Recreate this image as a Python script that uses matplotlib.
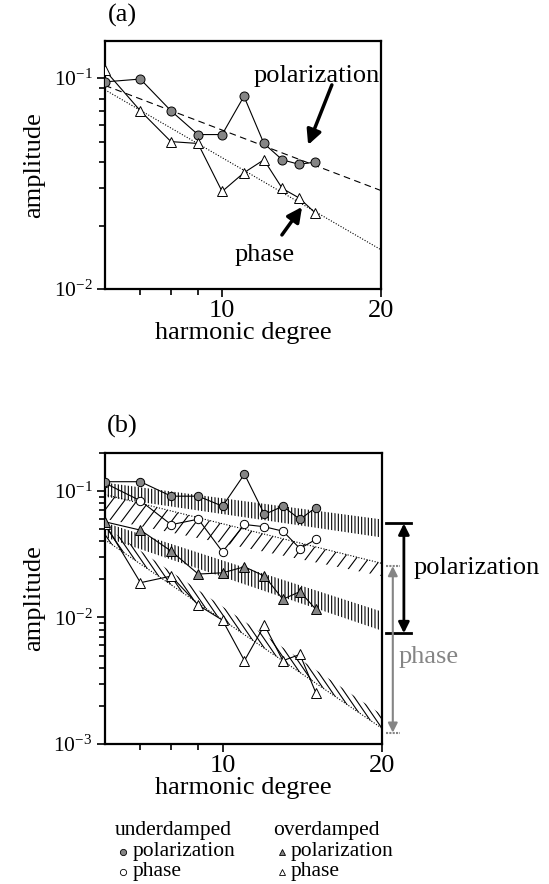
import numpy as np
import matplotlib
matplotlib.use('Agg')
import matplotlib.pyplot as plt
from matplotlib import hatch as mhatch
from matplotlib.path import Path
from matplotlib.lines import Line2D
import matplotlib.transforms as mtransforms
from matplotlib.ticker import FixedLocator, NullFormatter, FuncFormatter, LogLocator

plt.rcParams['font.family'] = ['Liberation Serif', 'DejaVu Serif']
plt.rcParams['mathtext.fontset'] = 'custom'
plt.rcParams['mathtext.rm'] = 'Liberation Serif'
plt.rcParams['mathtext.it'] = 'Liberation Serif:italic'
plt.rcParams['mathtext.default'] = 'regular'
plt.rcParams['hatch.linewidth'] = 0.8

DPI = 100


# --- measure the size (in pixels) of one hatch tile at this dpi ---
def _hatch_unit_px():
    try:
        ft = plt.figure(figsize=(3, 1), dpi=DPI)
        at = ft.add_axes([0, 0, 1, 1])
        at.set_axis_off()
        at.fill_between([0, 1], [0, 0], [1, 1], hatch='|', facecolor='white',
                        edgecolor='k', linewidth=0)
        at.set_xlim(0, 1)
        at.set_ylim(0, 1)
        ft.canvas.draw()
        row = np.asarray(ft.canvas.buffer_rgba())[50, :, 0].astype(float)
        plt.close(ft)
        dark = row < 170
        starts = np.flatnonzero(dark[1:] & ~dark[:-1])
        if len(starts) >= 3:
            spacing = np.median(np.diff(starts))
            return float(spacing * 6)
    except Exception:
        pass
    return float(DPI)


UNIT_PX = _hatch_unit_px()
NE_SPACING_PX = 12.5     # '/' hatch (band running almost across the lines)
SE_SPACING_PX = 6.25     # '\' hatch (band running nearly along the lines)
VERT_SPACING_PX = 3.3
RUN = 0.7
VERT_HATCH = '|' * max(1, int(round(UNIT_PX / (6 * VERT_SPACING_PX))))


class _SteepHatch(mhatch.HatchPatternBase):
    chars = '/'
    direction = 1
    spacing_px = NE_SPACING_PX

    def __init__(self, hatch, density):
        cnt = sum(hatch.count(c) for c in self.chars)
        n = max(2, int(round(UNIT_PX / self.spacing_px))) if cnt else 0
        self.n = n
        steps = int(round(RUN * n)) if n else 0
        self.run = steps / n if n else 0.0
        self.offsets = np.arange(-steps, n) / n if n else np.array([])
        self.num_vertices = 2 * len(self.offsets)

    def set_vertices_and_codes(self, vertices, codes):
        o = self.offsets
        if self.direction > 0:
            vertices[0::2, 0] = o
            vertices[0::2, 1] = 0.0
            vertices[1::2, 0] = o + self.run
            vertices[1::2, 1] = 1.0
        else:
            vertices[0::2, 0] = o
            vertices[0::2, 1] = 1.0
            vertices[1::2, 0] = o + self.run
            vertices[1::2, 1] = 0.0
        codes[0::2] = Path.MOVETO
        codes[1::2] = Path.LINETO


class _SteepNE(_SteepHatch):
    chars = '/'
    direction = 1
    spacing_px = NE_SPACING_PX


class _SteepSE(_SteepHatch):
    chars = '\\'
    direction = -1
    spacing_px = SE_SPACING_PX


try:
    _types = mhatch._hatch_types
    for i, t in enumerate(_types):
        if t is mhatch.NorthEastHatch:
            _types[i] = _SteepNE
        elif t is mhatch.SouthEastHatch:
            _types[i] = _SteepSE
except Exception:
    pass

# ---------------- data ----------------
degrees = [6, 7, 8, 9, 10, 11, 12, 13, 14, 15]

# panel (a)
a_pol = [0.096, 0.099, 0.070, 0.054, 0.054, 0.082, 0.049, 0.041, 0.039, 0.040]
a_phase = [0.109, 0.070, 0.050, 0.049, 0.029, 0.0356, 0.041, 0.030, 0.027, 0.023]
fit_x = [6, 20]
a_fit_pol = [0.0923, 0.0293]
a_fit_phase = [0.088, 0.01535]

# panel (b)
b_under_pol = [0.118, 0.118, 0.0907, 0.0907, 0.0756, 0.1355, 0.065, 0.0756, 0.0594, 0.0738]
b_under_phase = [0.115, 0.0834, 0.054, 0.0597, 0.033, 0.0542, 0.052, 0.048, 0.035, 0.0413]
b_over_pol = [0.0569, 0.0489, 0.0334, 0.022, 0.0225, 0.0251, 0.0212, 0.0139, 0.0160, 0.0116]
b_over_phase = [0.055, 0.0188, 0.0212, 0.0125, 0.0095, 0.00455, 0.0087, 0.00455, 0.0051, 0.00254]

band_x = [6, 20]
band1_upper = [0.116, 0.0594]
band1_lower = [0.0897, 0.0428]
band2_upper = [0.0935, 0.0267]
band2_lower = [0.060, 0.0212]
band3_upper = [0.056, 0.0111]
band3_lower = [0.043, 0.00785]
band4_upper = [0.052, 0.0017]
band4_lower = [0.041, 0.00133]

pol_range = [0.0552, 0.0075]
phase_range = [0.0254, 0.00123]

GRAY = '#858585'
LABEL_FS = 19
XTICK_FS = 19
YTICK_FS = 15.5

fig = plt.figure(figsize=(5.49, 8.84), dpi=DPI)
ax_a = fig.add_axes([105/549, 1-289/884, 276/549, 248/884])
ax_b = fig.add_axes([105/549, 1-744/884, 277/549, 291.3/884])


def style_axes(ax, ylim):
    ax.set_xscale('log')
    ax.set_yscale('log')
    ax.set_xlim(6, 20)
    ax.set_ylim(*ylim)
    ax.xaxis.set_major_locator(FixedLocator([10, 20]))
    ax.xaxis.set_major_formatter(FuncFormatter(lambda v, p: f'{v:g}'))
    ax.xaxis.set_minor_locator(FixedLocator([7, 8, 9]))
    ax.xaxis.set_minor_formatter(NullFormatter())
    ax.yaxis.set_major_locator(LogLocator(base=10, numticks=10))
    ax.yaxis.set_minor_locator(LogLocator(base=10, subs=range(2, 10), numticks=20))
    ax.yaxis.set_minor_formatter(NullFormatter())
    ax.tick_params(axis='both', which='both', direction='out', width=1.2,
                   top=False, right=False)
    ax.tick_params(axis='both', which='major', length=6)
    ax.tick_params(axis='both', which='minor', length=4.5)
    ax.tick_params(axis='x', which='major', labelsize=XTICK_FS, pad=2)
    ax.tick_params(axis='y', which='major', labelsize=YTICK_FS, pad=3)
    for s in ax.spines.values():
        s.set_linewidth(1.6)
    ax.set_xlabel('harmonic degree', fontsize=LABEL_FS, labelpad=0)
    ax.set_ylabel('amplitude', fontsize=LABEL_FS, labelpad=6)


# ---------------- panel (a) ----------------
style_axes(ax_a, (0.01, 0.15))
ax_a.plot(fit_x, a_fit_pol, color='k', lw=0.8, ls=(0, (6, 4)))
ax_a.plot(fit_x, a_fit_phase, color='k', lw=0.8, ls=(0, (1, 1.5)))
ax_a.plot(degrees, a_pol, color='k', lw=0.8, marker='o', ms=6.5,
          mfc=GRAY, mec='k', mew=0.7, zorder=4)
ax_a.plot(degrees, a_phase, color='k', lw=0.8, marker='^', ms=7,
          mfc='white', mec='k', mew=0.7, zorder=4)

ax_a.text(0.768, 0.859, 'polarization', transform=ax_a.transAxes,
          fontsize=LABEL_FS, ha='center', va='center')
ax_a.annotate('', xy=(0.736, 0.581), xytext=(0.822, 0.823),
              xycoords='axes fraction', textcoords='axes fraction',
              arrowprops=dict(arrowstyle='-|>', color='k', lw=2.5,
                              mutation_scale=22, shrinkA=0, shrinkB=0))
ax_a.text(0.580, 0.137, 'phase', transform=ax_a.transAxes,
          fontsize=LABEL_FS, ha='center', va='center')
ax_a.annotate('', xy=(0.714, 0.331), xytext=(0.641, 0.218),
              xycoords='axes fraction', textcoords='axes fraction',
              arrowprops=dict(arrowstyle='-|>', color='k', lw=2.5,
                              mutation_scale=22, shrinkA=0, shrinkB=0))
ax_a.text(0.062, 1.105, '(a)', transform=ax_a.transAxes,
          fontsize=LABEL_FS, ha='center', va='center')

# ---------------- panel (b) ----------------
style_axes(ax_b, (0.001, 0.2))
ax_b.fill_between(band_x, band1_lower, band1_upper, facecolor='none',
                  edgecolor='k', hatch=VERT_HATCH, linewidth=0, zorder=1)
ax_b.fill_between(band_x, band2_lower, band2_upper, facecolor='none',
                  edgecolor='k', hatch='/', linewidth=0, zorder=1)
ax_b.fill_between(band_x, band3_lower, band3_upper, facecolor='none',
                  edgecolor='k', hatch=VERT_HATCH, linewidth=0, zorder=1)
ax_b.fill_between(band_x, band4_lower, band4_upper, facecolor='none',
                  edgecolor='k', hatch='\\', linewidth=0, zorder=1)
ax_b.plot(band_x, band2_upper, color='k', lw=0.8, ls=(0, (1, 1.5)), zorder=2)
ax_b.plot(band_x, band4_lower, color='k', lw=0.8, ls=(0, (1, 1.5)), zorder=2)

ax_b.plot(degrees, b_under_pol, color='k', lw=0.8, marker='o', ms=6,
          mfc=GRAY, mec='k', mew=0.7, zorder=5)
ax_b.plot(degrees, b_under_phase, color='k', lw=0.8, marker='o', ms=6,
          mfc='white', mec='k', mew=0.7, zorder=4)
ax_b.plot(degrees, b_over_pol, color='k', lw=0.8, marker='^', ms=7,
          mfc=GRAY, mec='k', mew=0.7, zorder=5)
ax_b.plot(degrees, b_over_phase, color='k', lw=0.8, marker='^', ms=7,
          mfc='white', mec='k', mew=0.7, zorder=4)

ax_b.text(0.062, 1.09, '(b)', transform=ax_b.transAxes,
          fontsize=LABEL_FS, ha='center', va='center')

trans = mtransforms.blended_transform_factory(ax_b.transAxes, ax_b.transData)
for yv in pol_range:
    ax_b.plot([1.014, 1.103], [yv, yv], color='k', lw=2, transform=trans,
              clip_on=False)
for yv in phase_range:
    ax_b.plot([1.014, 1.065], [yv, yv], color=GRAY, lw=1.5, ls=(0, (1, 0.6)),
              transform=trans, clip_on=False)
ax_b.annotate('', xy=(1.079, pol_range[1]), xytext=(1.079, pol_range[0]),
              xycoords=trans, textcoords=trans,
              arrowprops=dict(arrowstyle='<|-|>', color='k', lw=2,
                              mutation_scale=16, shrinkA=0, shrinkB=0))
ax_b.annotate('', xy=(1.039, phase_range[1]), xytext=(1.039, phase_range[0]),
              xycoords=trans, textcoords=trans,
              arrowprops=dict(arrowstyle='<|-|>', color=GRAY, lw=1.5,
                              mutation_scale=14, shrinkA=0, shrinkB=0))
ax_b.text(1.113, 0.0244, 'polarization', transform=trans, fontsize=LABEL_FS,
          ha='left', va='center')
ax_b.text(1.061, 0.0049, 'phase', transform=trans, fontsize=LABEL_FS,
          ha='left', va='center', color=GRAY)

# ---------------- legend ----------------
LEG_FS = 15.5


def fx(px):
    return px / 549


def fy(py):
    return 1 - py / 884


fig.text(fx(115), fy(830), 'underdamped', fontsize=LEG_FS, ha='left', va='center')
fig.text(fx(273), fy(830), 'overdamped', fontsize=LEG_FS, ha='left', va='center')
legend_items = [
    (123.3, 851.7, 'o', GRAY, 'polarization'),
    (123.3, 871.7, 'o', 'white', 'phase'),
    (281.7, 851.7, '^', GRAY, 'polarization'),
    (281.7, 871.7, '^', 'white', 'phase'),
]
for px, py, mk, fc, lab in legend_items:
    fig.add_artist(Line2D([fx(px)], [fy(py)], transform=fig.transFigure,
                          marker=mk, ms=4.5, mfc=fc, mec='k', mew=0.6, ls='none'))
    fig.text(fx(px + 9), fy(py), lab, fontsize=LEG_FS, ha='left', va='center')

fig.savefig('out.png', dpi=DPI)
